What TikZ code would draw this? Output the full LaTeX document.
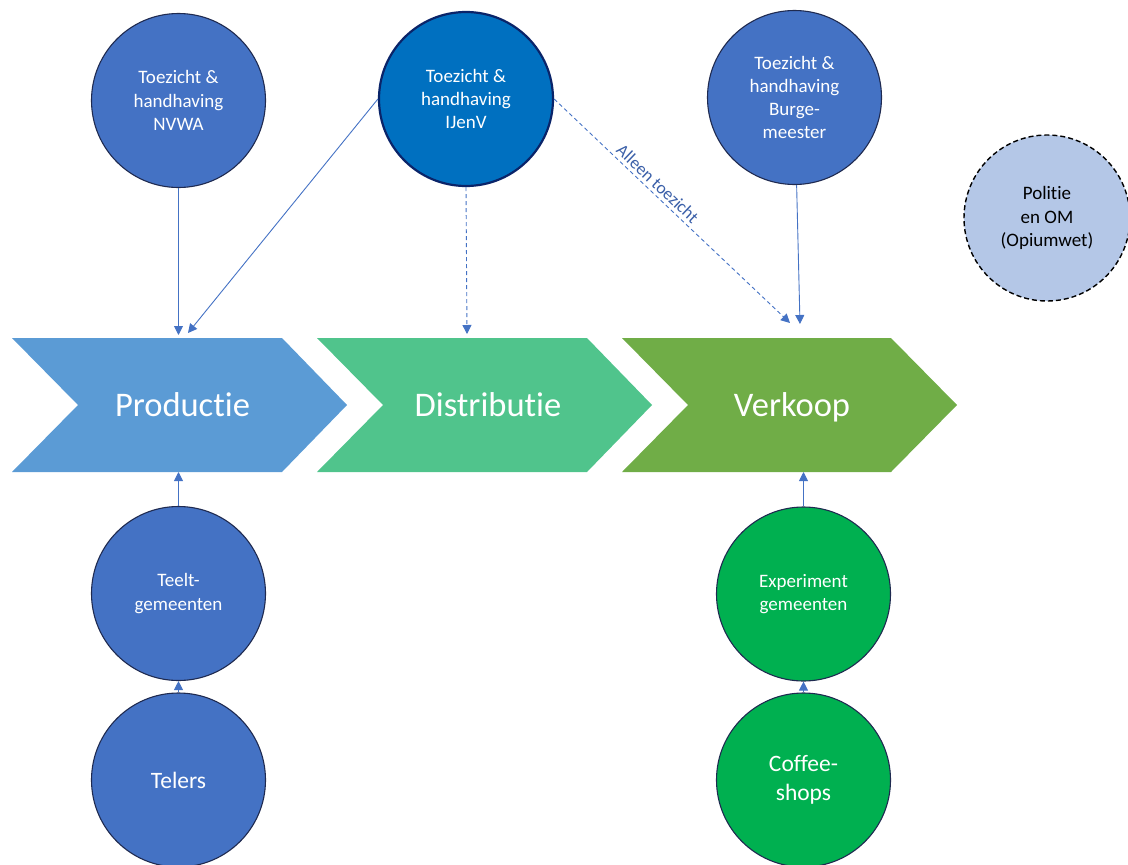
\documentclass[tikz,border=0pt]{standalone}
\usepackage{fontspec}
\setmainfont{Carlito}[Ligatures={NoCommon}]
\usetikzlibrary{arrows.meta}
\definecolor{prodcol}{HTML}{5B9BD5}
\definecolor{distcol}{HTML}{50C48C}
\definecolor{verkcol}{HTML}{70AD47}
\definecolor{bluefill}{HTML}{4472C4}
\definecolor{ijfill}{HTML}{0070C0}
\definecolor{greenfill}{HTML}{00B050}
\definecolor{polfill}{HTML}{B4C7E7}
\definecolor{navy}{HTML}{1F2A50}
\definecolor{ijline}{HTML}{0A2469}
\definecolor{conn}{HTML}{4472C4}
\definecolor{lblcol}{HTML}{3A5FA8}
\begin{document}
\begin{tikzpicture}[x=1pt,y=-1pt,
  circ/.style={circle,draw=navy,line width=1.1pt,minimum size=174pt,inner sep=0pt,align=center,text=white},
  bluecirc/.style={circ,fill=bluefill},
  greencirc/.style={circ,fill=greenfill},
  smalltxt/.style={font=\fontsize{19}{23.3}\selectfont},
  bigtxt/.style={font=\fontsize{23.5}{29.5}\selectfont},
  chevtxt/.style={text=white,font=\fontsize{34.5}{40}\selectfont,minimum width=270pt,minimum height=134pt,inner sep=0pt,text height=25pt,text depth=3pt},
  conline/.style={draw=conn,line width=0.9pt,-{Triangle[length=9pt,width=9pt]}},
  dashline/.style={conline,dash pattern=on 4pt off 3pt}
]
\useasboundingbox (0,0) rectangle (1128,865);

% chevrons
\fill[prodcol] (12,338) -- (282,338) -- (347,405) -- (282,472) -- (12,472) -- (78,405) -- cycle;
\fill[distcol] (317,338) -- (587,338) -- (652,405) -- (587,472) -- (317,472) -- (383,405) -- cycle;
\fill[verkcol] (622,338) -- (891,338) -- (957,405) -- (891,472) -- (622,472) -- (688,405) -- cycle;
\node[chevtxt] (prod) at (182.5,405) {Productie};
\node[chevtxt] (dist) at (488,405) {Distributie};
\node[chevtxt] (verk) at (792,405) {Verkoop};

% circles
\node[bluecirc,smalltxt] (nvwa) at (178.5,100.5) {Toezicht \&\\handhaving\\NVWA};
\node[circ,fill=ijfill,draw=ijline,line width=2.2pt,smalltxt] (ijenv) at (466,99) {Toezicht \&\\handhaving\\IJenV};
\node[bluecirc,smalltxt] (burg) at (794.5,97.5) {Toezicht \&\\handhaving\\Burge-\\meester};
\node[circ,fill=polfill,draw=black,dashed,dash pattern=on 5pt off 3pt,line width=1.4pt,text=black,minimum size=166pt,smalltxt] (pol) at (1047,218) {Politie\\en OM\\(Opiumwet)};
\node[bluecirc,smalltxt] (teelt) at (178.5,593.5) {Teelt-\\gemeenten};
\node[bluecirc,bigtxt] (telers) at (178.5,780) {Telers};
\node[greencirc,smalltxt] (exp) at (803.5,594) {Experiment\\gemeenten};
\node[greencirc,bigtxt] (coffee) at (803.5,780) {Coffee-\\shops};

% connector end points
\coordinate (pA) at (178.5,335);
\coordinate (pB) at (188,333);
\coordinate (dA) at (467,334);
\coordinate (vA) at (790,323);
\coordinate (vB) at (800,324);
\coordinate (pC) at (178.5,472);
\coordinate (vC) at (803.5,472);

% connectors
\draw[conline] (nvwa) -- (pA);
\draw[conline] (ijenv.west) -- (pB);
\draw[dashline] (ijenv.south) -- (dA);
\draw[dashline] (ijenv.east) -- node[pos=0.41,sloped,above,inner sep=3.5pt,text=lblcol,font=\fontsize{17.5}{20}\selectfont] {Alleen toezicht} (vA);
\draw[conline] (burg) -- (vB);
\draw[conline] (teelt) -- (pC);
\draw[conline] (telers) -- (teelt);
\draw[conline] (exp) -- (vC);
\draw[conline] (coffee) -- (exp);
\end{tikzpicture}
\end{document}
